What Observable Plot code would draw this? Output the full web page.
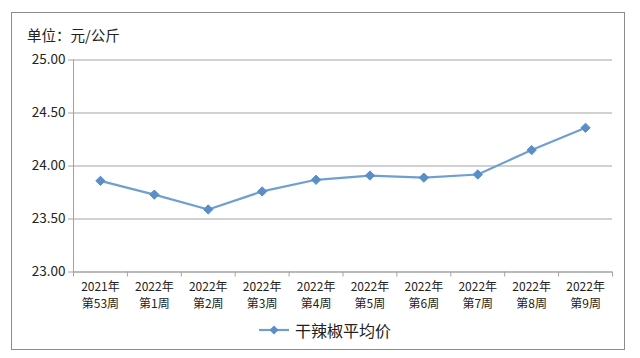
<!DOCTYPE html>
<html>
<head>
<meta charset="utf-8">
<script src="https://cdn.jsdelivr.net/npm/d3@7"></script>
<script src="https://cdn.jsdelivr.net/npm/@observablehq/plot@0.6"></script>
<style>
  html, body { margin: 0; padding: 0; background: #fff; }
  #wrap { position: relative; width: 640px; height: 358px; overflow: hidden; font-family: "Noto Sans CJK SC", sans-serif; }
  #frame { position: absolute; left: 11px; top: 12px; width: 614px; height: 338px; border: 1px solid #8c8c8c; box-sizing: border-box; pointer-events: none; }
  #title { position: absolute; left: 27px; top: 24px; font-size: 14.5px; color: #222; }
  #legend { position: absolute; left: 258px; top: 318px; font-size: 16px; color: #222; display: flex; align-items: center; }
  #legend svg { margin-right: 5px; }
  #chart { position: absolute; left: 0; top: 0; }
</style>
</head>
<body>
<div id="wrap">
  <div id="chart"></div>
  <div id="frame"></div>
  <div id="title">单位：元/公斤</div>
  <div id="legend"></div>
</div>
<script>
const years = ["2021年","2022年","2022年","2022年","2022年","2022年","2022年","2022年","2022年","2022年"];
const weeks = ["第53周","第1周","第2周","第3周","第4周","第5周","第6周","第7周","第8周","第9周"];
const prices = [23.86, 23.73, 23.59, 23.76, 23.87, 23.91, 23.89, 23.92, 24.15, 24.36];
const yTicks = [23.0, 23.5, 24.0, 24.5, 25.0];
const seriesName = "干辣椒平均价";

const lineColor = "#6f9fd1";
const dotColor = "#5a8ec6";
const gridColor = "#a3a3a3";

const data = prices.map((v, i) => ({i, v}));
const idx = d3.range(prices.length);
const bounds = d3.range(prices.length + 1).map(k => k - 0.5);

const chart = Plot.plot({
  width: 640,
  height: 358,
  marginLeft: 73,
  marginRight: 28,
  marginTop: 59.5,
  marginBottom: 86.5,
  style: { fontFamily: "Noto Sans CJK SC, sans-serif", fontSize: "12px", color: "#222", background: "transparent" },
  x: { type: "linear", domain: [-0.5, prices.length - 0.5] },
  y: { domain: [23, 25] },
  marks: [
    Plot.gridY(yTicks, { stroke: gridColor, strokeOpacity: 1, strokeWidth: 1 }),
    Plot.ruleX([-0.5], { stroke: gridColor, strokeWidth: 1 }),
    Plot.ruleY([23], { stroke: gridColor, strokeWidth: 1 }),
    Plot.axisY({ ticks: yTicks, tickFormat: d3.format(".2f"), tickSize: 5, tickPadding: 3, stroke: gridColor, label: null, fontSize: 13.5, fill: "#222" }),
    Plot.axisX({ ticks: bounds, tickFormat: () => "", tickSize: 5, stroke: gridColor, label: null }),
    Plot.axisX({ ticks: idx, tickFormat: i => years[i], tickSize: 0, tickPadding: 10, label: null, fontSize: 12, fill: "#222" }),
    Plot.axisX({ ticks: idx, tickFormat: i => weeks[i], tickSize: 0, tickPadding: 27.6, label: null, fontSize: 12, fill: "#222" }),
    Plot.line(data, { x: "i", y: "v", stroke: lineColor, strokeWidth: 2.2 }),
    Plot.dot(data, { x: "i", y: "v", symbol: "diamond2", r: 4.2, fill: dotColor, stroke: dotColor, strokeWidth: 1 })
  ]
});
document.getElementById("chart").appendChild(chart);

const legend = document.getElementById("legend");
legend.innerHTML = `<svg width="32" height="12"><line x1="1" y1="6" x2="31" y2="6" stroke="${lineColor}" stroke-width="2.2"/><path d="M16,1.5L20.5,6L16,10.5L11.5,6Z" fill="${dotColor}"/></svg><span>${seriesName}</span>`;
</script>
</body>
</html>
